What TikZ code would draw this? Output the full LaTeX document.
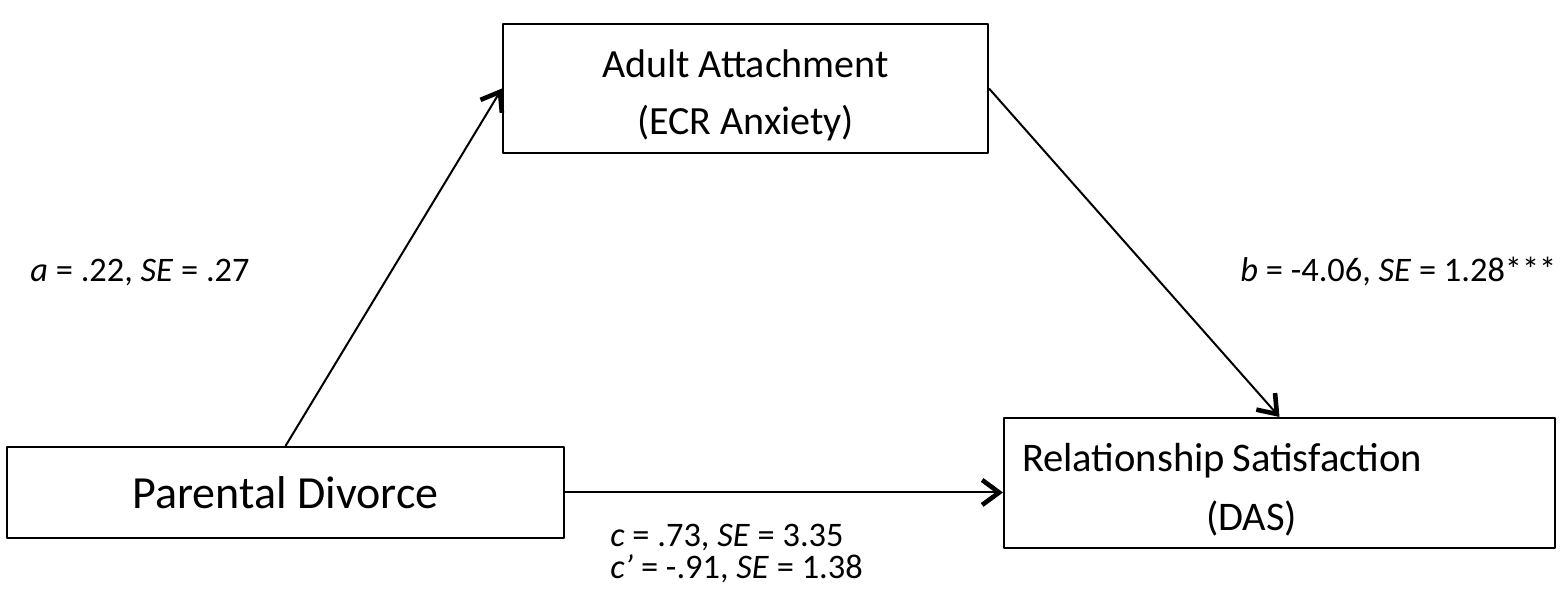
\documentclass[tikz,border=0pt]{standalone}
\usepackage{fontspec}
\setmainfont{Carlito}
\usetikzlibrary{arrows.meta,positioning}
\tikzset{box/.style={draw,line width=1pt,inner sep=0pt,align=center},
  coef/.style={anchor=west,inner sep=0pt,font=\fontsize{17.2}{16}\selectfont,align=left}}

\begin{document}
\begin{tikzpicture}[x=0.5pt,y=0.5pt,>={Straight Barb[length=8.5pt,width=12.5pt,line width=2.3pt]},line join=round]
\useasboundingbox (0,0) rectangle (1563,603);
% --- the three variables
\node[box,font=\fontsize{23}{29}\selectfont,minimum width=278.5pt,minimum height=45.5pt] (divorce) at (285.5,110.5) {Parental Divorce};
\node[box,font=\fontsize{20}{28.5}\selectfont,minimum width=242.5pt,minimum height=64.5pt] (attach) at (745.5,514.5) {\rule{0pt}{21pt}Adult Attachment\\(ECR Anxiety)};
\node[box,font=\fontsize{20.3}{29.5}\selectfont,minimum width=275.5pt,minimum height=65pt,align=left,text width=257.5pt] (satisf) at (1279.5,120) {\rule{0pt}{20.5pt}\mbox{Relationship\kern-3pt{} Satisfaction}\\\hspace*{92pt}(DAS)};
% --- paths
\draw[->,line width=1pt] (divorce.north) -- (attach.west);
\draw[->,line width=1pt] (attach.east) -- (satisf.north);
\draw[->,line width=1pt] (divorce.east) -- (divorce.east -| satisf.west);
% --- coefficients
\node[coef] (apath) at (30,330) {\textit{a} = .22, \textit{SE} = .27};
\node[coef] (bpath) at (1240,331) {\textit{b} = -4.06, \textit{SE} = 1.28***};
\node[coef] (cpath) at (610,49.5) {\textit{c} = .73, \textit{SE} = 3.35\\\textit{c’} = -.91, \textit{SE} = 1.38};
\end{tikzpicture}
\end{document}
